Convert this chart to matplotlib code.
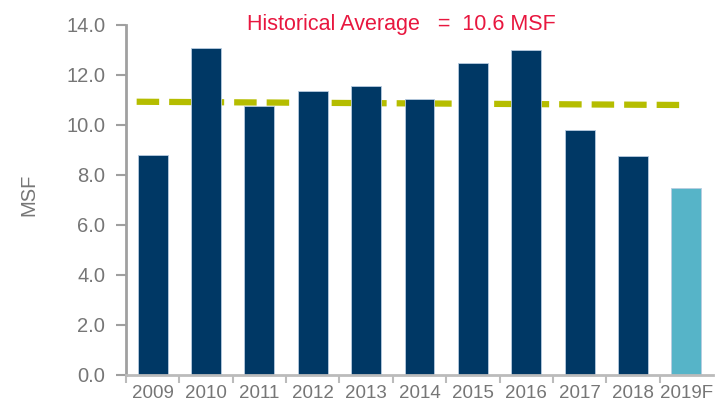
import matplotlib.pyplot as plt
import numpy as np

years = ["2009", "2010", "2011", "2012", "2013", "2014", "2015", "2016", "2017", "2018", "2019F"]
msf = [8.8, 13.09, 10.77, 11.36, 11.56, 11.03, 12.47, 13.01, 9.79, 8.77, 7.47]
is_forecast = [False] * 10 + [True]

# dashed average line (slightly sloped in the source)
avg_x = [-0.3, 9.9]
avg_y = [10.93, 10.80]
avg_label = "Historical Average   =  10.6 MSF"

plt.rcParams['font.family'] = ['Liberation Sans', 'DejaVu Sans']
grey = '#767676'

fig = plt.figure(figsize=(7.15, 4.05), dpi=100)
ax = fig.add_axes([0.1762, 0.0741, 0.821, 0.8642])

x = np.arange(len(years))
colors = ['#56B4C8' if f else '#003865' for f in is_forecast]

ax.plot(avg_x, avg_y, color='#B5BD00', linewidth=4.5, dashes=(3.6, 1.6), zorder=1)
ax.bar(x, msf, width=0.56, color=colors, edgecolor='#B8CCE0', linewidth=0.6, zorder=2)

ax.set_xlim(-0.5, 10.5)
ax.set_ylim(0, 14)
ax.set_yticks(np.arange(0, 14.1, 2))
ax.set_yticklabels([f"{v:.1f}" for v in np.arange(0, 14.1, 2)])
ax.set_xticks(x)
ax.set_xticklabels(years)
ax.set_xticks(np.arange(-0.5, 10, 1), minor=True)

ax.tick_params(axis='y', labelsize=14.5, colors=grey, length=7, width=1.5, pad=8, color='#A0A0A0')
ax.tick_params(axis='x', which='major', labelsize=13.5, colors=grey, length=0, pad=7)
ax.tick_params(axis='x', which='minor', length=6, width=1.5, color='#BBBBBB')

for s in ['top', 'right']:
    ax.spines[s].set_visible(False)
ax.spines['left'].set_color('#A0A0A0')
ax.spines['left'].set_linewidth(2)
ax.spines['bottom'].set_color('#BBBBBB')
ax.spines['bottom'].set_linewidth(2)

ax.set_ylabel("MSF", fontsize=14.5, color=grey)
ax.yaxis.set_label_coords(-0.15, 0.515)

fig.text(0.3455, 0.94, avg_label, color='#E8173F', fontsize=15.5, ha='left', va='center')

fig.savefig("out.png", dpi=100)
